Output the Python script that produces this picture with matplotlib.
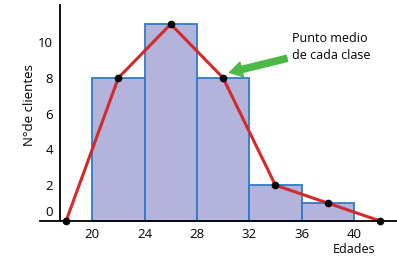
import matplotlib.pyplot as plt
import matplotlib.transforms as mtransforms
import numpy as np

# class edges and counts
edges = [20, 24, 28, 32, 36, 40]
counts = [8, 11, 8, 2, 1]
# frequency polygon (class midpoints plus empty classes at both ends)
poly_x = [18, 22, 26, 30, 34, 38, 42]
poly_y = [0, 8, 11, 8, 2, 1, 0]
xticks = [20, 24, 28, 32, 36, 40]
yticks = [0, 2, 4, 6, 8, 10]

plt.rcParams['font.family'] = ['Open Sans', 'DejaVu Sans']

fig = plt.figure(figsize=(3.97, 2.56), dpi=100)
ax = fig.add_axes([0, 0, 1, 1])
ax.patch.set_alpha(0)

lefts = edges[:-1]
widths = np.diff(edges)
ax.bar(lefts, counts, width=widths, align='edge', color='#b3b3dc',
       edgecolor='#2f7cc4', linewidth=1.3, zorder=2)

ax.plot(poly_x, poly_y, color='#d42a2a', linewidth=2.2, zorder=3)
ax.plot(poly_x, poly_y, 'o', color='black', markersize=4.5, zorder=4)

ax.set_xlim(12.95, 43.3)
ax.set_ylim(-1.96, 12.35)

for s in ['top', 'right']:
    ax.spines[s].set_visible(False)
ax.spines['left'].set_position(('data', 17.55))
ax.spines['left'].set_bounds(0, 12.05)
ax.spines['bottom'].set_position(('data', 0))
ax.spines['bottom'].set_bounds(16.0, 43.3)
for s in ['left', 'bottom']:
    ax.spines[s].set_linewidth(1.3)
    ax.spines[s].set_zorder(5)

ax.set_xticks(xticks)
ax.set_yticks(yticks)
ax.tick_params(axis='both', length=0, labelsize=9.5)
ax.tick_params(axis='x', pad=5)
ax.tick_params(axis='y', pad=5)

# the "0" label sits a bit above the axis line in the original
fig.canvas.draw()
lab0 = ax.get_yticklabels()[0]
lab0.set_transform(lab0.get_transform() +
                   mtransforms.ScaledTranslation(0, 7 / 72, fig.dpi_scale_trans))

ax.text(15.2, 6.5, 'N°de clientes', rotation=90, ha='center', va='center',
        fontsize=9.5)
ax.text(40.0, -1.62, 'Edades', ha='center', va='center', fontsize=9)

ax.annotate('Punto medio\nde cada clase', xy=(30.5, 8.3), xytext=(35.3, 9.7),
            ha='left', va='center', fontsize=9, linespacing=1.4,
            arrowprops=dict(arrowstyle='simple,head_length=1.0,head_width=1.2,tail_width=0.5',
                            color='#4cb848', shrinkA=2, shrinkB=0))

fig.savefig('out.png', dpi=100)
